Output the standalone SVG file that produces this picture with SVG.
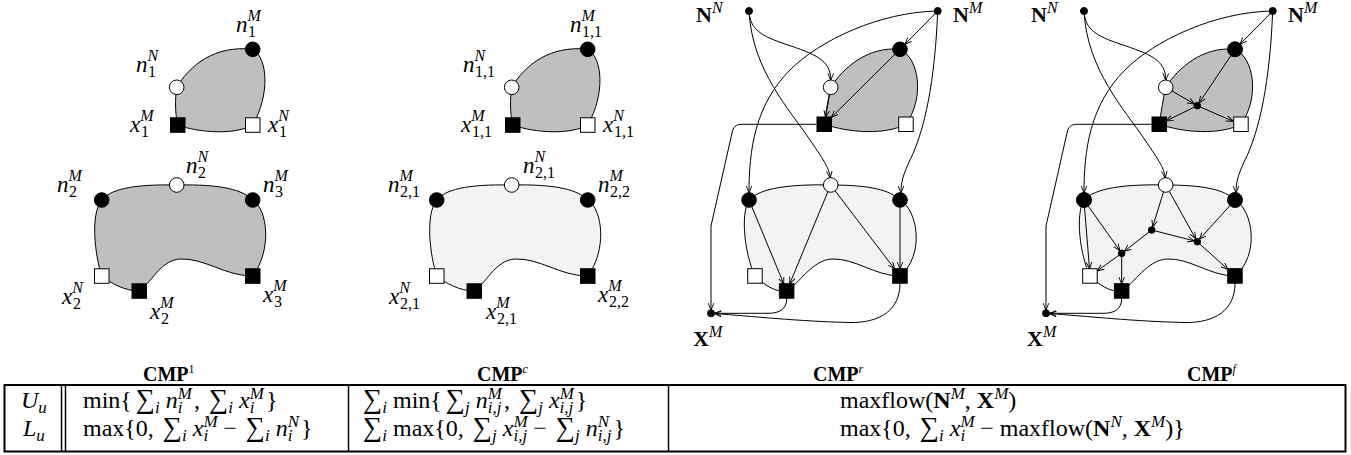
<svg xmlns="http://www.w3.org/2000/svg" width="1351" height="455" viewBox="0 0 1351 455">
<defs>
<style>
.dk{fill:#bfbfbf;stroke:#000;stroke-width:1}
.lt{fill:#f3f3f3;stroke:#000;stroke-width:1}
.bk{fill:#000;stroke:#000;stroke-width:1}
.wh{fill:#fff;stroke:#000;stroke-width:1}
.e{fill:none;stroke:#000;stroke-width:1;marker-end:url(#ah)}
.m{font-family:"Liberation Serif",serif;font-style:italic;font-size:23px}
.s{font-size:16px}
.r{font-style:normal}
.bn{font-family:"Liberation Serif",serif;font-weight:bold;font-size:22px}
.bs{font-family:"Liberation Serif",serif;font-style:italic;font-weight:normal;font-size:16px}
.cmp{font-family:"Liberation Serif",serif;font-weight:bold;font-size:20px}
.cs{font-weight:normal;font-size:12px}
.t{font-family:"Liberation Serif",serif;font-size:24px}
.i{font-style:italic}
.ts{font-size:17px;font-style:italic}
.sg{font-size:27px}
.bf{font-weight:bold}
.tb{fill:none;stroke:#000;stroke-width:2}
.tl{stroke:#000;stroke-width:1.5}
</style>
<marker id="ah" viewBox="0 0 10 10" refX="9.5" refY="5" markerWidth="7" markerHeight="7" markerUnits="userSpaceOnUse" orient="auto"><path d="M0,1 L10,5 L0,9" fill="none" stroke="#000" stroke-width="1.3"/></marker>
<path id="p1t" d="M176.7,87.3 C190,65 215,45 252.7,49.3 C268,58 270,95 252.7,125 C235,135 200,133 177.7,125 C175,112 175,100 176.7,87.3 Z"/>
<path id="p1b" d="M101.7,200 C110,190 130,184 176.7,185 C222,184 243,190 252.7,200 C268,210 272,250 252.7,276 C225,276 205,258 180,259 C160,260 150,285 139.3,291 C125,291 110,283 101.7,276 C95,255 90,215 101.7,200 Z"/>
<path id="p3t" d="M830.7,87.3 C843,68 868,46 900,49.3 C919,58 925,97 906,124.3 C885,135 850,133 824.3,124.3 C826,112 828,100 830.7,87.3 Z"/>
<path id="p3b" d="M749,200 C760,188 790,184 830.7,185 C870,185 890,190 900,200 C918,210 925,255 900,276 C875,276 855,258 832,259 C812,260 800,283 786.7,291 C775,293 762,283 755,276 C745,255 740,215 749,200 Z"/>
</defs>

<g id="regions">
<use href="#p1t" class="dk"/>
<use href="#p1b" class="dk"/>
<use href="#p1t" class="dk" transform="translate(335,0)"/>
<use href="#p1b" class="lt" transform="translate(335,0)"/>
<use href="#p3t" class="dk"/>
<use href="#p3b" class="lt"/>
<use href="#p3t" class="dk" transform="translate(335,0)"/>
<use href="#p3b" class="lt" transform="translate(335,0)"/>
</g>

<g id="connectors">
<g id="edges-r">
<path class="e" d="M749,11 C750,30 762,36 785,44 C815,54 831,60 830.7,80"/>
<path class="e" d="M749,11 C752,70 790,110 810,140 C825,162 829,168 830.2,177.7"/>
<path class="e" d="M937.7,11 L905.1,44.1"/>
<path class="e" d="M937.7,11 C880,12 820,40 790,70 C755,105 749,150 749,192.7"/>
<path class="e" d="M937.7,11 C935,80 925,130 910,160 C903,175 901,182 901,192.7"/>
<path class="e" d="M894.8,54.4 L831.6,117.1"/>
<path class="e" d="M829.5,94.5 L825.6,117"/>
<path class="e" d="M816.3,124.3 L742,124.3 C736,124.3 733,127 732,133 L711,226 L711,309.8"/>
<path class="e" d="M751.8,206.7 L783.7,283.7"/>
<path class="e" d="M827.9,191.7 L789.8,283.7"/>
<path class="e" d="M835.1,190.8 L894.4,268.7"/>
<path class="e" d="M900,207.3 L900,268.7"/>
<path class="e" d="M786.7,298.3 C786.7,309 780,313.3 768,313.3 L714.8,313.3"/>
<path class="e" d="M900,283.3 C900,310 880,323 850,322.5 C800,321.5 750,316 714.8,313.6"/>
</g>
<g id="edges-f">
<g transform="translate(335,0)">
<path class="e" d="M749,11 C750,30 762,36 785,44 C815,54 831,60 830.7,80"/>
<path class="e" d="M749,11 C752,70 790,110 810,140 C825,162 829,168 830.2,177.7"/>
<path class="e" d="M937.7,11 L905.1,44.1"/>
<path class="e" d="M937.7,11 C880,12 820,40 790,70 C755,105 749,150 749,192.7"/>
<path class="e" d="M937.7,11 C935,80 925,130 910,160 C903,175 901,182 901,192.7"/>
<path class="e" d="M816.3,124.3 L742,124.3 C736,124.3 733,127 732,133 L711,226 L711,309.8"/>
<path class="e" d="M786.7,298.3 C786.7,309 780,313.3 768,313.3 L714.8,313.3"/>
<path class="e" d="M900,283.3 C900,310 880,323 850,322.5 C800,321.5 750,316 714.8,313.6"/>
</g>
<path class="e" d="M1172,91 L1194.3,103.9"/>
<path class="e" d="M1231,55.4 L1199.2,102.8"/>
<path class="e" d="M1194.2,107.2 L1166.5,120.8"/>
<path class="e" d="M1200.5,107.1 L1232.7,121.1"/>
<path class="e" d="M1084.5,207.3 L1089.5,268.7"/>
<path class="e" d="M1088.2,206 L1119.7,250.4"/>
<path class="e" d="M1163.5,192 L1152.7,226.7"/>
<path class="e" d="M1169.3,191.4 L1195.6,238.6"/>
<path class="e" d="M1155.1,230.9 L1193.9,240.8"/>
<path class="e" d="M1148.9,232.1 L1124.5,251.2"/>
<path class="e" d="M1230.1,205.4 L1199.6,239.1"/>
<path class="e" d="M1199.9,244.1 L1227.7,269.2"/>
<path class="e" d="M1118.9,255.3 L1097.3,270.8"/>
<path class="e" d="M1121.7,256.8 L1121.7,283.7"/>
</g>
</g>

<!-- Panel 1 -->
<g id="p1-n1M"><circle class="bk" cx="252.7" cy="49.3" r="7.3"/><text class="m" x="236" y="32">n<tspan class="s" dy="-11">M</tspan><tspan class="s r" x="248" dy="16">1</tspan></text></g>
<g id="p1-n1N"><circle class="wh" cx="176.7" cy="87.3" r="7.3"/><text class="m" x="136" y="71.5">n<tspan class="s" dy="-11">N</tspan><tspan class="s r" x="148" dy="16">1</tspan></text></g>
<g id="p1-x1M"><rect class="bk" x="170.5" y="117.8" width="14.5" height="14.5"/><text class="m" x="130" y="131.7">x<tspan class="s" dy="-11">M</tspan><tspan class="s r" x="141" dy="16">1</tspan></text></g>
<g id="p1-x1N"><rect class="wh" x="245.5" y="117.8" width="14.5" height="14.5"/><text class="m" x="268" y="131.7">x<tspan class="s" dy="-11">N</tspan><tspan class="s r" x="279" dy="16">1</tspan></text></g>
<g id="p1-n2M"><circle class="bk" cx="101.7" cy="200" r="7.3"/><text class="m" x="57" y="191.5">n<tspan class="s" dy="-11">M</tspan><tspan class="s r" x="69" dy="16">2</tspan></text></g>
<g id="p1-n2N"><circle class="wh" cx="176.7" cy="185" r="7.3"/><text class="m" x="186" y="173">n<tspan class="s" dy="-11">N</tspan><tspan class="s r" x="198" dy="16">2</tspan></text></g>
<g id="p1-n3M"><circle class="bk" cx="252.7" cy="200" r="7.3"/><text class="m" x="263" y="191.5">n<tspan class="s" dy="-11">M</tspan><tspan class="s r" x="275" dy="16">3</tspan></text></g>
<g id="p1-x2N"><rect class="wh" x="94.5" y="268.8" width="14.5" height="14.5"/><text class="m" x="62" y="304">x<tspan class="s" dy="-11">N</tspan><tspan class="s r" x="73" dy="16">2</tspan></text></g>
<g id="p1-x2M"><rect class="bk" x="132" y="283.8" width="14.5" height="14.5"/><text class="m" x="150" y="319">x<tspan class="s" dy="-11">M</tspan><tspan class="s r" x="161" dy="16">2</tspan></text></g>
<g id="p1-x3M"><rect class="bk" x="245.5" y="268.8" width="14.5" height="14.5"/><text class="m" x="263" y="302">x<tspan class="s" dy="-11">M</tspan><tspan class="s r" x="274" dy="16">3</tspan></text></g>

<!-- Panel 2 -->
<g id="p2-n11M"><circle class="bk" cx="587.7" cy="49.3" r="7.3"/><text class="m" x="570" y="32">n<tspan class="s" dy="-11">M</tspan><tspan class="s r" x="582" dy="16">1,1</tspan></text></g>
<g id="p2-n11N"><circle class="wh" cx="511.7" cy="87.3" r="7.3"/><text class="m" x="463" y="71.5">n<tspan class="s" dy="-11">N</tspan><tspan class="s r" x="475" dy="16">1,1</tspan></text></g>
<g id="p2-x11M"><rect class="bk" x="505.5" y="117.8" width="14.5" height="14.5"/><text class="m" x="461" y="131.7">x<tspan class="s" dy="-11">M</tspan><tspan class="s r" x="472" dy="16">1,1</tspan></text></g>
<g id="p2-x11N"><rect class="wh" x="580.5" y="117.8" width="14.5" height="14.5"/><text class="m" x="603" y="131.7">x<tspan class="s" dy="-11">N</tspan><tspan class="s r" x="614" dy="16">1,1</tspan></text></g>
<g id="p2-n21M"><circle class="bk" cx="436.7" cy="200" r="7.3"/><text class="m" x="388" y="191.5">n<tspan class="s" dy="-11">M</tspan><tspan class="s r" x="400" dy="16">2,1</tspan></text></g>
<g id="p2-n21N"><circle class="wh" cx="511.7" cy="185" r="7.3"/><text class="m" x="523" y="173">n<tspan class="s" dy="-11">N</tspan><tspan class="s r" x="535" dy="16">2,1</tspan></text></g>
<g id="p2-n22M"><circle class="bk" cx="587.7" cy="200" r="7.3"/><text class="m" x="598" y="191.5">n<tspan class="s" dy="-11">M</tspan><tspan class="s r" x="610" dy="16">2,2</tspan></text></g>
<g id="p2-x21N"><rect class="wh" x="429.5" y="268.8" width="14.5" height="14.5"/><text class="m" x="389" y="304">x<tspan class="s" dy="-11">N</tspan><tspan class="s r" x="400" dy="16">2,1</tspan></text></g>
<g id="p2-x21M"><rect class="bk" x="467" y="283.8" width="14.5" height="14.5"/><text class="m" x="486" y="319">x<tspan class="s" dy="-11">M</tspan><tspan class="s r" x="497" dy="16">2,1</tspan></text></g>
<g id="p2-x22M"><rect class="bk" x="580.5" y="268.8" width="14.5" height="14.5"/><text class="m" x="598" y="302">x<tspan class="s" dy="-11">M</tspan><tspan class="s r" x="609" dy="16">2,2</tspan></text></g>

<!-- Panel 3 -->
<g id="p3-NN"><circle class="bk" cx="749" cy="11" r="3.5"/><text class="bn" x="696" y="22">N<tspan class="bs" dy="-9">N</tspan></text></g>
<g id="p3-NM"><circle class="bk" cx="937.7" cy="11" r="3.5"/><text class="bn" x="953" y="22">N<tspan class="bs" dy="-9">M</tspan></text></g>
<g id="p3-XM"><circle class="bk" cx="711" cy="313.3" r="3.5"/><text class="bn" x="693" y="346">X<tspan class="bs" dy="-9">M</tspan></text></g>
<g id="p3-t-b"><circle class="bk" cx="900" cy="49.3" r="7.3"/></g>
<g id="p3-t-w"><circle class="wh" cx="830.7" cy="87.3" r="7.3"/></g>
<g id="p3-t-bs"><rect class="bk" x="817" y="117" width="14.5" height="14.5"/></g>
<g id="p3-t-ws"><rect class="wh" x="898.7" y="117" width="14.5" height="14.5"/></g>
<g id="p3-b-lb"><circle class="bk" cx="749" cy="200" r="7.3"/></g>
<g id="p3-b-w"><circle class="wh" cx="830.7" cy="185" r="7.3"/></g>
<g id="p3-b-rb"><circle class="bk" cx="900" cy="200" r="7.3"/></g>
<g id="p3-b-ws"><rect class="wh" x="747.7" y="268.7" width="14.5" height="14.5"/></g>
<g id="p3-b-ms"><rect class="bk" x="779.4" y="283.7" width="14.5" height="14.5"/></g>
<g id="p3-b-rs"><rect class="bk" x="892.7" y="268.7" width="14.5" height="14.5"/></g>

<!-- Panel 4 -->
<g id="p4-NN"><circle class="bk" cx="1084" cy="11" r="3.5"/><text class="bn" x="1031" y="22">N<tspan class="bs" dy="-9">N</tspan></text></g>
<g id="p4-NM"><circle class="bk" cx="1272.7" cy="11" r="3.5"/><text class="bn" x="1288" y="22">N<tspan class="bs" dy="-9">M</tspan></text></g>
<g id="p4-XM"><circle class="bk" cx="1046" cy="313.3" r="3.5"/><text class="bn" x="1027" y="346">X<tspan class="bs" dy="-9">M</tspan></text></g>
<g id="p4-t-b"><circle class="bk" cx="1235" cy="49.3" r="7.5"/></g>
<g id="p4-t-w"><circle class="wh" cx="1165.7" cy="87.3" r="7.3"/></g>
<g id="p4-t-d"><circle class="bk" cx="1197.3" cy="105.7" r="3.3"/></g>
<g id="p4-t-bs"><rect class="bk" x="1152" y="117" width="14.5" height="14.5"/></g>
<g id="p4-t-ws"><rect class="wh" x="1233.7" y="117" width="14.5" height="14.5"/></g>
<g id="p4-b-lb"><circle class="bk" cx="1084" cy="200" r="7.5"/></g>
<g id="p4-b-w"><circle class="wh" cx="1165.7" cy="185" r="7.3"/></g>
<g id="p4-b-rb"><circle class="bk" cx="1235" cy="200" r="7.5"/></g>
<g id="p4-b-A"><circle class="bk" cx="1151.7" cy="230" r="3.3"/></g>
<g id="p4-b-B"><circle class="bk" cx="1197.3" cy="241.7" r="3.3"/></g>
<g id="p4-b-C"><circle class="bk" cx="1121.7" cy="253.3" r="3.3"/></g>
<g id="p4-b-ws"><rect class="wh" x="1082.7" y="268.7" width="14.5" height="14.5"/></g>
<g id="p4-b-ms"><rect class="bk" x="1114.4" y="283.7" width="14.5" height="14.5"/></g>
<g id="p4-b-rs"><rect class="bk" x="1227.7" y="268.7" width="14.5" height="14.5"/></g>

<!-- Captions -->
<g id="captions">
<text class="cmp" x="143" y="381">CMP<tspan class="cs" dy="-8">1</tspan></text>
<text class="cmp" x="477" y="381">CMP<tspan class="cs i" dy="-8">c</tspan></text>
<text class="cmp" x="813" y="381">CMP<tspan class="cs i" dy="-8">r</tspan></text>
<text class="cmp" x="1187" y="381">CMP<tspan class="cs i" dy="-8">f</tspan></text>
</g>

<!-- Table -->
<g id="table">
<rect class="tb" x="4.5" y="385" width="1341" height="66.5"/>
<line class="tl" x1="61.5" y1="385" x2="61.5" y2="451.5"/>
<line class="tl" x1="65.5" y1="385" x2="65.5" y2="451.5"/>
<line class="tl" x1="348.5" y1="385" x2="348.5" y2="451.5"/>
<line class="tl" x1="668.5" y1="385" x2="668.5" y2="451.5"/>
<text class="t i" x="21" y="408">U<tspan class="ts" dy="5">u</tspan></text>
<text class="t i" x="23" y="436">L<tspan class="ts" dy="5">u</tspan></text>
<text class="t" x="83" y="408">min{<tspan class="sg" dx="4">∑</tspan><tspan class="ts" dy="5">i</tspan><tspan class="i" dy="-5" dx="6">n</tspan><tspan class="ts" dy="-9">M</tspan><tspan class="ts" dx="-14.2" dy="14">i</tspan><tspan dy="-5" dx="11.5">,</tspan><tspan class="sg" dx="9">∑</tspan><tspan class="ts" dy="5">i</tspan><tspan class="i" dy="-5" dx="6">x</tspan><tspan class="ts" dy="-9">M</tspan><tspan class="ts" dx="-14.2" dy="14">i</tspan><tspan dy="-5" dx="11.5">}</tspan></text>
<text class="t" x="83" y="436">max{0,<tspan class="sg" dx="9">∑</tspan><tspan class="ts" dy="5">i</tspan><tspan class="i" dy="-5" dx="6">x</tspan><tspan class="ts" dy="-9">M</tspan><tspan class="ts" dx="-14.2" dy="14">i</tspan><tspan dy="-5" dx="15">−</tspan><tspan class="sg" dx="9">∑</tspan><tspan class="ts" dy="5">i</tspan><tspan class="i" dy="-5" dx="6">n</tspan><tspan class="ts" dy="-9">N</tspan><tspan class="ts" dx="-11.3" dy="14">i</tspan><tspan dy="-5" dx="8.6">}</tspan></text>
<text class="t" x="363" y="408"><tspan class="sg">∑</tspan><tspan class="ts" dy="5">i</tspan><tspan dy="-5" dx="6">min{</tspan><tspan class="sg" dx="4">∑</tspan><tspan class="ts" dy="5">j</tspan><tspan class="i" dy="-5" dx="6">n</tspan><tspan class="ts" dy="-9">M</tspan><tspan class="ts" dx="-14.2" dy="14">i,j</tspan><tspan dy="-5" dx="2.5">,</tspan><tspan class="sg" dx="9">∑</tspan><tspan class="ts" dy="5">j</tspan><tspan class="i" dy="-5" dx="6">x</tspan><tspan class="ts" dy="-9">M</tspan><tspan class="ts" dx="-14.2" dy="14">i,j</tspan><tspan dy="-5" dx="2.5">}</tspan></text>
<text class="t" x="363" y="436"><tspan class="sg">∑</tspan><tspan class="ts" dy="5">i</tspan><tspan dy="-5" dx="6">max{0,</tspan><tspan class="sg" dx="9">∑</tspan><tspan class="ts" dy="5">j</tspan><tspan class="i" dy="-5" dx="6">x</tspan><tspan class="ts" dy="-9">M</tspan><tspan class="ts" dx="-14.2" dy="14">i,j</tspan><tspan dy="-5" dx="6">−</tspan><tspan class="sg" dx="9">∑</tspan><tspan class="ts" dy="5">j</tspan><tspan class="i" dy="-5" dx="6">n</tspan><tspan class="ts" dy="-9">N</tspan><tspan class="ts" dx="-11.3" dy="14">i,j</tspan><tspan dy="-5" dx="2">}</tspan></text>
<text class="t" x="840" y="408">maxflow(<tspan class="bf">N</tspan><tspan class="ts" dy="-9">M</tspan><tspan dy="9">,</tspan><tspan class="bf" dx="6">X</tspan><tspan class="ts" dy="-9">M</tspan><tspan dy="9">)</tspan></text>
<text class="t" x="840" y="436">max{0,<tspan class="sg" dx="9">∑</tspan><tspan class="ts" dy="5">i</tspan><tspan class="i" dy="-5" dx="6">x</tspan><tspan class="ts" dy="-9">M</tspan><tspan class="ts" dx="-14.2" dy="14">i</tspan><tspan dy="-5" dx="15">−</tspan><tspan dx="6">maxflow(</tspan><tspan class="bf">N</tspan><tspan class="ts" dy="-9">N</tspan><tspan dy="9">,</tspan><tspan class="bf" dx="6">X</tspan><tspan class="ts" dy="-9">M</tspan><tspan dy="9">)}</tspan></text>
</g>
</svg>
